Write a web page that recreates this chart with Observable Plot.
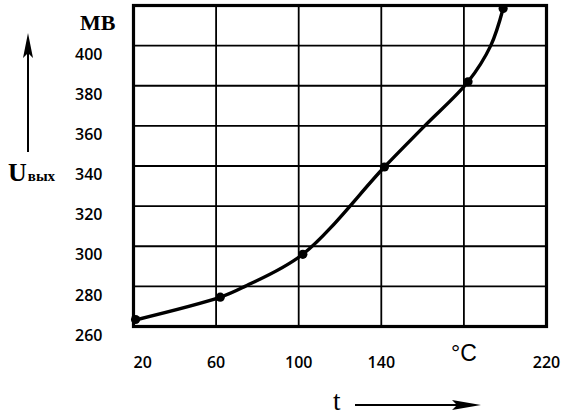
<!DOCTYPE html>
<html>
<head>
<meta charset="utf-8">
<script src="https://cdn.jsdelivr.net/npm/d3@7"></script>
<script src="https://cdn.jsdelivr.net/npm/@observablehq/plot@0.6"></script>
<style>
  html, body { margin: 0; padding: 0; background: #fff; }
  #chart svg { display: block; }
</style>
</head>
<body>
<div id="chart"></div>
<script>
// Measured points (markers): temperature t (°C) and output voltage U (mV)
const temps = [21, 62, 102, 141.5, 182, 199];
const volts = [263.5, 274.6, 296, 339.5, 382, 418.5];

// Points (markers plus grid-line crossings)
const curveT = [20, 62, 74, 102, 141.5, 161, 182, 193, 199];
const curveU = [263, 274.6, 280, 296, 339.5, 360, 382, 400, 418.5];

const xTicks = [20, 60, 100, 140, 180, 220];
const xTickLabels = ["20", "60", "100", "140", "°C", "220"];
const yTicks = [260, 280, 300, 320, 340, 360, 380, 400, 420];
const yTickLabels = ["260", "280", "300", "320", "340", "360", "380", "400", "МВ"];
const xGrid = [60, 100, 140, 180];
const yGrid = [280, 300, 320, 340, 360, 380, 400];

const points = temps.map((t, i) => ({t, u: volts[i]}));
const curve = curveT.map((t, i) => ({t, u: curveU[i]}));
const numFont = "'Open Sans', sans-serif";
const serif = "'Liberation Serif', 'Times New Roman', serif";

const chart = Plot.plot({
  width: 570,
  height: 416,
  marginLeft: 133,
  marginRight: 24,
  marginTop: 5,
  marginBottom: 90,
  style: {background: "#fff", color: "#000", fontFamily: numFont, overflow: "visible"},
  x: {domain: [20, 220]},
  y: {domain: [260, 420]},
  marks: [
    Plot.gridX(xGrid, {stroke: "#000", strokeOpacity: 1, strokeWidth: 1.8}),
    Plot.gridY(yGrid, {stroke: "#000", strokeOpacity: 1, strokeWidth: 1.8}),
    Plot.frame({stroke: "#000", strokeWidth: 3.2}),
    Plot.line(curve, {x: "t", y: "u", curve: "catmull-rom", stroke: "#000", strokeWidth: 3.4}),
    Plot.dot(points, {x: "t", y: "u", r: 4.6, fill: "#000"}),
    Plot.axisY(yTicks.slice(0, -1), {
      tickSize: 0, tickPadding: 31, dy: 9,
      tickFormat: (d) => yTickLabels[yTicks.indexOf(d)],
      fontSize: 16, fontWeight: 600, fontFamily: numFont, label: null
    }),
    Plot.axisY([420], {
      tickSize: 0, tickPadding: 18, dy: 17,
      tickFormat: () => yTickLabels[yTickLabels.length - 1],
      fontSize: 22, fontWeight: "bold", fontFamily: serif, label: null
    }),
    Plot.axisX([20], {
      tickSize: 0, tickPadding: 30, textAnchor: "start",
      tickFormat: (d) => xTickLabels[xTicks.indexOf(d)],
      fontSize: 16, fontWeight: 600, fontFamily: numFont, label: null
    }),
    Plot.axisX([60, 100, 140, 220], {
      tickSize: 0, tickPadding: 30,
      tickFormat: (d) => xTickLabels[xTicks.indexOf(d)],
      fontSize: 16, fontWeight: 600, fontFamily: numFont, label: null
    }),
    Plot.axisX([180], {
      tickSize: 0, tickPadding: 18,
      tickFormat: (d) => xTickLabels[xTicks.indexOf(d)],
      fontSize: 23, fontWeight: 500, fontFamily: "'Liberation Sans', Arial, sans-serif", label: null
    })
  ]
});

document.getElementById("chart").appendChild(chart);

// Axis titles with arrows
const svg = d3.select(chart);
const ann = svg.append("g").attr("fill", "#000").attr("text-anchor", "start");

// Vertical arrow for U
ann.append("line").attr("x1", 28).attr("x2", 28).attr("y1", 152).attr("y2", 50)
  .attr("stroke", "#000").attr("stroke-width", 2);
ann.append("path").attr("d", "M28,33 L23,58 L28,53 L33,58 Z");

const ut = ann.append("text").attr("x", 8).attr("y", 181)
  .attr("font-family", serif).attr("font-weight", "bold");
ut.append("tspan").attr("font-size", 26).text("U");
ut.append("tspan").attr("font-size", 15).attr("dx", 1).text("вых");

// Horizontal arrow for t
ann.append("text").attr("x", 333).attr("y", 410)
  .attr("font-family", serif).attr("font-size", 27).text("t");
ann.append("line").attr("x1", 355).attr("x2", 462).attr("y1", 405).attr("y2", 405)
  .attr("stroke", "#000").attr("stroke-width", 2);
ann.append("path").attr("d", "M481,405 L452,400 L457,405 L452,410 Z");
</script>
</body>
</html>
